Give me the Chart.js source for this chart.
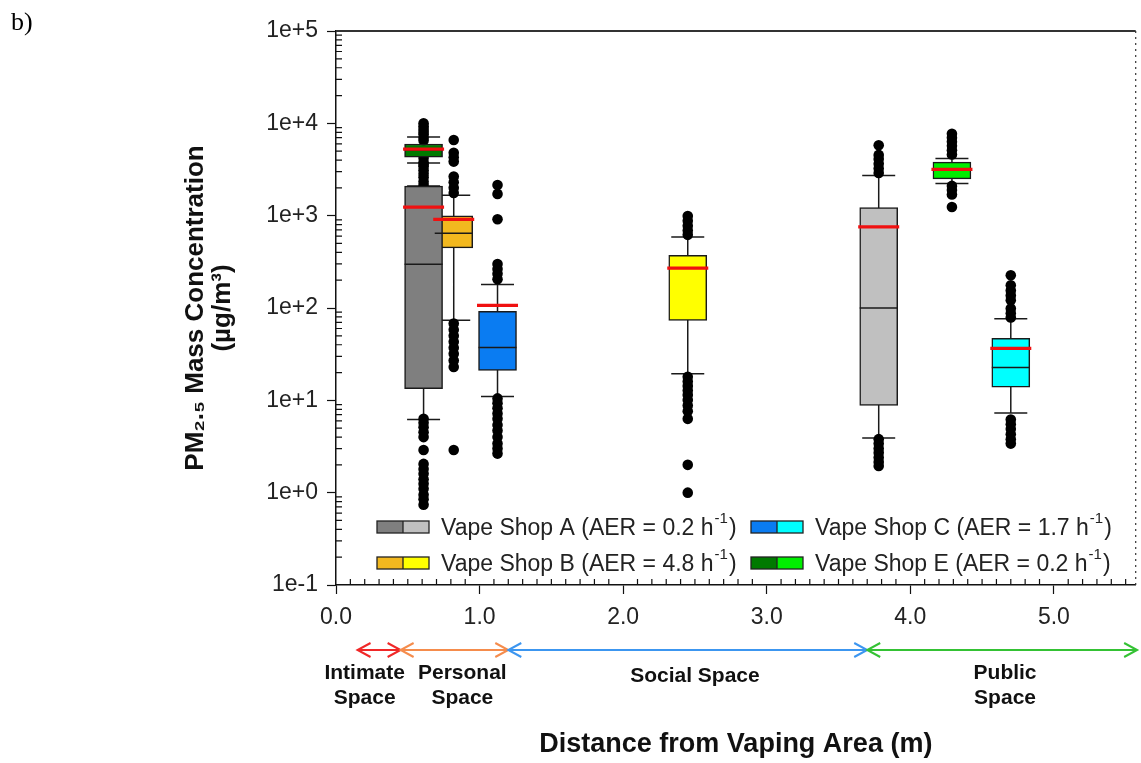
<!DOCTYPE html>
<html>
<head>
<meta charset="utf-8">
<script src="https://cdn.jsdelivr.net/npm/chart.js@4.4.1/dist/chart.umd.min.js"></script>
<style>
  html, body { margin: 0; padding: 0; background: #fff; }
  #wrap { width: 1141px; height: 763px; }
</style>
</head>
<body>
<div id="wrap"><canvas id="myChart" width="1141" height="763"></canvas></div>
<script>
// shops (legend order A, B, C, E)
const shopNames = ["Vape Shop A", "Vape Shop B", "Vape Shop C", "Vape Shop E"];
const shopAER = ["0.2", "4.8", "1.7", "0.2"];
const darkColors = ["#7f7f7f", "#f2b81f", "#0a7cf2", "#007a00"];
const lightColors = ["#c0c0c0", "#ffff00", "#00ffff", "#00ee00"];

// one entry per box
const boxShop = [0, 3, 1, 2, 1, 0, 3, 2];
const boxLight = [false, false, false, false, true, true, true, true];
const boxDistance = [0.61, 0.61, 0.82, 1.125, 2.45, 3.78, 4.29, 4.70];
const boxQ1 = [13.4, 4310, 448, 21.1, 73.5, 8.8, 2500, 13.9];
const boxMedian = [298, 5100, 645, 37.4, 270, 100, 3150, 22.7];
const boxQ3 = [2090, 5970, 995, 92, 373, 1227, 3800, 47];
const boxMean = [1237, 5260, 910, 107, 270, 755, 3170, 36.5];
const whiskerLow = [6.2, 3710, 73.5, 11, 19.4, 3.9, 2235, 7.3];
const whiskerHigh = [2100, 7110, 1668, 180, 589, 2730, 4170, 76.6];
const outliers = [
  [2150, 2350, 2600, 2850, 3100, 3400, 3800, 4200, 6500, 7000,
   6.3, 5.7, 5.1, 4.5, 4.0, 2.9, 2.05, 1.8, 1.6, 1.4, 1.25, 1.1, 0.95, 0.85, 0.74],
  [7600, 8100, 8700, 9300, 10000, 3550],
  [6600, 4800, 4300, 3850, 2650, 2300, 2000, 1760, 68, 58, 50, 43, 37, 32, 27, 23, 2.9],
  [2150, 1720, 915, 300, 265, 235, 205, 10.5, 9.3, 8.2, 7.2, 6.3, 5.4, 4.7, 4.0, 3.4, 3.0, 2.65],
  [990, 880, 780, 690, 620, 18, 16, 14.3, 12.8, 11.4, 10.1, 8.8, 7.6, 6.3, 2.0, 1.0],
  [5800, 4550, 4100, 3650, 3250, 2900, 3.8, 3.4, 3.0, 2.7, 2.4, 2.15, 1.95],
  [7700, 7000, 6300, 5700, 5100, 4600, 2100, 1900, 1700, 1240],
  [226, 176, 155, 137, 121, 99, 88, 79, 6.2, 5.5, 4.9, 4.3, 3.8, 3.4]
];

// axes
const distanceTicks = [0, 1, 2, 3, 4, 5];
const concTicks = [0.1, 1, 10, 100, 1000, 10000, 100000];

// proxemic zones under the x axis (m)
const zoneNames = [["Intimate", "Space"], ["Personal", "Space"], ["Social Space"], ["Public", "Space"]];
const zoneStart = [0.15, 0.45, 1.2, 3.7];
const zoneEnd = [0.45, 1.2, 3.7, 5.58];
const zoneLabelAt = [0.2, 0.88, 2.5, 4.66];
const zoneColors = ["#f02828", "#f58c4c", "#3c96f0", "#34c234"];

const FONT = "'Liberation Sans', Arial, sans-serif";
const BOX_W = 38, CAP_W = 33, MEAN_W = 41;

const datasets = shopNames.map((name, s) => {
  const idx = boxShop.map((b, i) => b === s ? i : -1).filter(i => i >= 0);
  return {
    label: name,
    data: idx.map(i => ({ x: boxDistance[i], y: [boxQ1[i], boxQ3[i]] })),
    backgroundColor: idx.map(i => boxLight[i] ? lightColors[s] : darkColors[s]),
    borderColor: "#1a1a1a",
    borderWidth: 1.5,
    borderSkipped: false,
    barThickness: BOX_W,
    grouped: false,
    order: 1
  };
});

datasets.push({
  type: "scatter",
  label: "Outliers",
  data: outliers.flatMap((list, i) => list.map(v => ({ x: boxDistance[i], y: v }))),
  backgroundColor: "#000",
  borderWidth: 0,
  pointRadius: 5.3,
  order: 5
});

function hLine(ctx, x, y, w) {
  ctx.moveTo(x - w / 2, y);
  ctx.lineTo(x + w / 2, y);
}

const whiskers = {
  id: "whiskers",
  beforeDatasetsDraw(chart) {
    const { ctx, scales: { x, y } } = chart;
    ctx.save();
    ctx.strokeStyle = "#1a1a1a";
    ctx.lineWidth = 1.5;
    ctx.beginPath();
    boxDistance.forEach((d, i) => {
      const px = x.getPixelForValue(d);
      ctx.moveTo(px, y.getPixelForValue(whiskerLow[i]));
      ctx.lineTo(px, y.getPixelForValue(whiskerHigh[i]));
      hLine(ctx, px, y.getPixelForValue(whiskerLow[i]), CAP_W);
      hLine(ctx, px, y.getPixelForValue(whiskerHigh[i]), CAP_W);
    });
    ctx.stroke();
    ctx.restore();
  },
  afterDatasetsDraw(chart) {
    const { ctx, scales: { x, y } } = chart;
    ctx.save();
    ctx.strokeStyle = "#1a1a1a";
    ctx.lineWidth = 1.5;
    ctx.beginPath();
    boxDistance.forEach((d, i) => hLine(ctx, x.getPixelForValue(d), y.getPixelForValue(boxMedian[i]), BOX_W));
    ctx.stroke();
    ctx.strokeStyle = "#f01010";
    ctx.lineWidth = 3.2;
    ctx.beginPath();
    boxDistance.forEach((d, i) => hLine(ctx, x.getPixelForValue(d), y.getPixelForValue(boxMean[i]), MEAN_W));
    ctx.stroke();
    ctx.restore();
  }
};

function arrowHead(ctx, x, y, dir) {
  ctx.moveTo(x - dir * 13, y - 7);
  ctx.lineTo(x, y);
  ctx.lineTo(x - dir * 13, y + 7);
}

const extras = {
  id: "extras",
  afterDraw(chart) {
    const { ctx, chartArea: a, scales: { x, y } } = chart;
    ctx.save();
    ctx.strokeStyle = "#111";
    ctx.lineWidth = 1.2;
    ctx.beginPath();
    // minor ticks inside the axes
    for (let i = 1; i < 56; i++) {
      if (i % 10 === 0) continue;
      const px = x.getPixelForValue(i / 10);
      ctx.moveTo(px, a.bottom);
      ctx.lineTo(px, a.bottom - 6);
    }
    for (let p = -1; p < 5; p++) {
      for (let m = 2; m < 10; m++) {
        const py = y.getPixelForValue(m * Math.pow(10, p));
        ctx.moveTo(a.left, py);
        ctx.lineTo(a.left + 6, py);
      }
    }
    ctx.stroke();

    // top frame and dotted right frame
    ctx.lineWidth = 2;
    ctx.strokeStyle = "#333";
    ctx.beginPath();
    ctx.moveTo(a.left, a.top);
    ctx.lineTo(a.right, a.top);
    ctx.stroke();
    ctx.lineWidth = 1.2;
    ctx.setLineDash([2, 4]);
    ctx.beginPath();
    ctx.moveTo(a.right, a.top);
    ctx.lineTo(a.right, a.bottom);
    ctx.stroke();
    ctx.setLineDash([]);

    // legend
    const rows = [[0, 2], [1, 3]];
    const rowY = [527, 563];
    const colX = [377, 751];
    rows.forEach((row, r) => row.forEach((s, c) => {
      const sx = colX[c], sy = rowY[r];
      ctx.fillStyle = darkColors[s];
      ctx.fillRect(sx, sy - 6, 26, 12);
      ctx.fillStyle = lightColors[s];
      ctx.fillRect(sx + 26, sy - 6, 26, 12);
      ctx.strokeStyle = "#222";
      ctx.lineWidth = 1.3;
      ctx.strokeRect(sx, sy - 6, 52, 12);
      ctx.beginPath();
      ctx.moveTo(sx + 26, sy - 6);
      ctx.lineTo(sx + 26, sy + 6);
      ctx.stroke();
      ctx.fillStyle = "#222";
      ctx.textBaseline = "middle";
      ctx.textAlign = "left";
      ctx.font = "23px " + FONT;
      let tx = sx + 64;
      const main = shopNames[s] + " (AER = " + shopAER[s] + " h";
      ctx.fillText(main, tx, sy + 2);
      tx += ctx.measureText(main).width + 1;
      ctx.font = "15px " + FONT;
      ctx.fillText("-1", tx, sy - 8);
      tx += ctx.measureText("-1").width + 1;
      ctx.font = "23px " + FONT;
      ctx.fillText(")", tx, sy + 2);
    }));

    // proxemic zone arrows and labels
    const ay = 650;
    ctx.lineWidth = 2;
    zoneNames.forEach((names, z) => {
      const x0 = x.getPixelForValue(zoneStart[z]);
      const x1 = x.getPixelForValue(zoneEnd[z]);
      ctx.strokeStyle = zoneColors[z];
      ctx.beginPath();
      ctx.moveTo(x0, ay);
      ctx.lineTo(x1, ay);
      arrowHead(ctx, x0, ay, -1);
      arrowHead(ctx, x1, ay, 1);
      ctx.stroke();
      ctx.fillStyle = "#111";
      ctx.font = "bold 21px " + FONT;
      ctx.textAlign = "center";
      const cx = x.getPixelForValue(zoneLabelAt[z]);
      if (names.length === 1) {
        ctx.fillText(names[0], cx, 676);
      } else {
        ctx.fillText(names[0], cx, 673);
        ctx.fillText(names[1], cx, 698);
      }
    });

    // panel letter
    ctx.fillStyle = "#000";
    ctx.font = "26px 'Liberation Serif', 'Times New Roman', serif";
    ctx.textAlign = "left";
    ctx.fillText("b)", 11, 23);
    ctx.restore();
  }
};

Chart.defaults.font.family = FONT;
Chart.defaults.color = "#222";

const ctx = document.getElementById("myChart");
const myChart = new Chart(ctx, {
  type: "bar",
  data: { datasets: datasets },
  options: {
    responsive: false,
    animation: false,
    layout: { padding: { top: 31, right: -3, bottom: 0, left: 0 } },
    plugins: { legend: { display: false }, tooltip: { enabled: false } },
    scales: {
      x: {
        type: "linear",
        min: 0,
        max: 5.57,
        offset: false,
        afterBuildTicks: axis => { axis.ticks = distanceTicks.map(v => ({ value: v })); },
        afterFit: axis => { axis.height = 178; },
        ticks: { font: { size: 23 }, padding: 10, maxRotation: 0, callback: v => v.toFixed(1) },
        grid: { drawOnChartArea: false, offset: false, tickLength: 9, color: "#111", tickWidth: 1.2 },
        border: { display: true, color: "#111", width: 1.5 },
        title: {
          display: true,
          text: "Distance from Vaping Area (m)",
          font: { size: 27, weight: "bold", lineHeight: 1.05 },
          color: "#111",
          padding: { top: 0, bottom: 4 }
        }
      },
      y: {
        type: "logarithmic",
        min: 0.1,
        max: 100000,
        afterBuildTicks: axis => { axis.ticks = concTicks.map(v => ({ value: v })); },
        afterFit: axis => { axis.width = 336; },
        ticks: {
          font: { size: 23 },
          padding: 9,
          callback: v => {
            const p = Math.round(Math.log10(v));
            return "1e" + (p >= 0 ? "+" : "") + p;
          }
        },
        grid: { drawOnChartArea: false, tickLength: 9, color: "#111", tickWidth: 1.2 },
        border: { display: true, color: "#111", width: 1.5 },
        title: {
          display: true,
          text: ["PM\u2082.\u2085 Mass Concentration", "(\u00b5g/m\u00b3)"],
          font: { size: 26, weight: "bold", lineHeight: 1.05 },
          color: "#111",
          padding: { top: 182, bottom: 0 }
        }
      }
    }
  },
  plugins: [whiskers, extras]
});
</script>
</body>
</html>
